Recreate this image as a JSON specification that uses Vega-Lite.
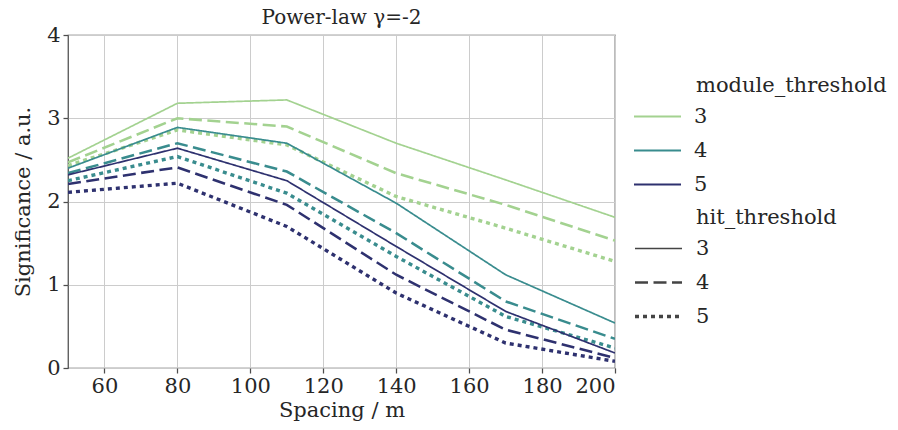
{
  "$schema": "https://vega.github.io/schema/vega-lite/v6.json",
  "width": 547,
  "height": 333,
  "autosize": "none",
  "padding": {"left": 68, "top": 35, "right": 283, "bottom": 62},
  "background": "white",
  "title": {"text": "Power-law γ=-2", "font": "DejaVu Serif", "fontSize": 20, "fontWeight": "normal", "color": "#262626", "frame": "group", "offset": -4},
  "config": {
    "view": {"stroke": "#4d4d4d", "strokeWidth": 1.25},
    "font": "DejaVu Serif",
    "axis": {
      "labelFont": "DejaVu Serif", "labelFontSize": 21, "labelColor": "#262626",
      "titleFont": "DejaVu Serif", "titleFontSize": 21, "titleFontWeight": "normal", "titleColor": "#262626",
      "gridColor": "#cccccc", "gridWidth": 1, "domain": false,
      "tickColor": "#4d4d4d", "tickSize": 5, "tickWidth": 1.25, "labelPadding": 3
    },
    "legend": {
      "titleFont": "DejaVu Serif", "titleFontSize": 21, "titleFontWeight": "normal", "titleColor": "#262626",
      "labelFont": "DejaVu Serif", "labelFontSize": 21, "labelColor": "#262626", "titleLimit": 400
    }
  },
  "data": {"values": [
    {"spacing": 50, "sig": 2.52, "module_threshold": "3", "hit_threshold": "3"},
    {"spacing": 80, "sig": 3.18, "module_threshold": "3", "hit_threshold": "3"},
    {"spacing": 110, "sig": 3.22, "module_threshold": "3", "hit_threshold": "3"},
    {"spacing": 140, "sig": 2.70, "module_threshold": "3", "hit_threshold": "3"},
    {"spacing": 170, "sig": 2.26, "module_threshold": "3", "hit_threshold": "3"},
    {"spacing": 200, "sig": 1.81, "module_threshold": "3", "hit_threshold": "3"},
    {"spacing": 50, "sig": 2.47, "module_threshold": "3", "hit_threshold": "4"},
    {"spacing": 80, "sig": 3.00, "module_threshold": "3", "hit_threshold": "4"},
    {"spacing": 110, "sig": 2.90, "module_threshold": "3", "hit_threshold": "4"},
    {"spacing": 140, "sig": 2.34, "module_threshold": "3", "hit_threshold": "4"},
    {"spacing": 170, "sig": 1.96, "module_threshold": "3", "hit_threshold": "4"},
    {"spacing": 200, "sig": 1.53, "module_threshold": "3", "hit_threshold": "4"},
    {"spacing": 50, "sig": 2.43, "module_threshold": "3", "hit_threshold": "5"},
    {"spacing": 80, "sig": 2.86, "module_threshold": "3", "hit_threshold": "5"},
    {"spacing": 110, "sig": 2.68, "module_threshold": "3", "hit_threshold": "5"},
    {"spacing": 140, "sig": 2.06, "module_threshold": "3", "hit_threshold": "5"},
    {"spacing": 170, "sig": 1.68, "module_threshold": "3", "hit_threshold": "5"},
    {"spacing": 200, "sig": 1.28, "module_threshold": "3", "hit_threshold": "5"},
    {"spacing": 50, "sig": 2.40, "module_threshold": "4", "hit_threshold": "3"},
    {"spacing": 80, "sig": 2.89, "module_threshold": "4", "hit_threshold": "3"},
    {"spacing": 110, "sig": 2.70, "module_threshold": "4", "hit_threshold": "3"},
    {"spacing": 140, "sig": 1.98, "module_threshold": "4", "hit_threshold": "3"},
    {"spacing": 170, "sig": 1.12, "module_threshold": "4", "hit_threshold": "3"},
    {"spacing": 200, "sig": 0.54, "module_threshold": "4", "hit_threshold": "3"},
    {"spacing": 50, "sig": 2.34, "module_threshold": "4", "hit_threshold": "4"},
    {"spacing": 80, "sig": 2.70, "module_threshold": "4", "hit_threshold": "4"},
    {"spacing": 110, "sig": 2.36, "module_threshold": "4", "hit_threshold": "4"},
    {"spacing": 140, "sig": 1.62, "module_threshold": "4", "hit_threshold": "4"},
    {"spacing": 170, "sig": 0.80, "module_threshold": "4", "hit_threshold": "4"},
    {"spacing": 200, "sig": 0.35, "module_threshold": "4", "hit_threshold": "4"},
    {"spacing": 50, "sig": 2.25, "module_threshold": "4", "hit_threshold": "5"},
    {"spacing": 80, "sig": 2.54, "module_threshold": "4", "hit_threshold": "5"},
    {"spacing": 110, "sig": 2.10, "module_threshold": "4", "hit_threshold": "5"},
    {"spacing": 140, "sig": 1.34, "module_threshold": "4", "hit_threshold": "5"},
    {"spacing": 170, "sig": 0.62, "module_threshold": "4", "hit_threshold": "5"},
    {"spacing": 200, "sig": 0.24, "module_threshold": "4", "hit_threshold": "5"},
    {"spacing": 50, "sig": 2.32, "module_threshold": "5", "hit_threshold": "3"},
    {"spacing": 80, "sig": 2.64, "module_threshold": "5", "hit_threshold": "3"},
    {"spacing": 110, "sig": 2.25, "module_threshold": "5", "hit_threshold": "3"},
    {"spacing": 140, "sig": 1.46, "module_threshold": "5", "hit_threshold": "3"},
    {"spacing": 170, "sig": 0.68, "module_threshold": "5", "hit_threshold": "3"},
    {"spacing": 200, "sig": 0.18, "module_threshold": "5", "hit_threshold": "3"},
    {"spacing": 50, "sig": 2.21, "module_threshold": "5", "hit_threshold": "4"},
    {"spacing": 80, "sig": 2.41, "module_threshold": "5", "hit_threshold": "4"},
    {"spacing": 110, "sig": 1.96, "module_threshold": "5", "hit_threshold": "4"},
    {"spacing": 140, "sig": 1.12, "module_threshold": "5", "hit_threshold": "4"},
    {"spacing": 170, "sig": 0.46, "module_threshold": "5", "hit_threshold": "4"},
    {"spacing": 200, "sig": 0.12, "module_threshold": "5", "hit_threshold": "4"},
    {"spacing": 50, "sig": 2.11, "module_threshold": "5", "hit_threshold": "5"},
    {"spacing": 80, "sig": 2.22, "module_threshold": "5", "hit_threshold": "5"},
    {"spacing": 110, "sig": 1.70, "module_threshold": "5", "hit_threshold": "5"},
    {"spacing": 140, "sig": 0.90, "module_threshold": "5", "hit_threshold": "5"},
    {"spacing": 170, "sig": 0.30, "module_threshold": "5", "hit_threshold": "5"},
    {"spacing": 200, "sig": 0.08, "module_threshold": "5", "hit_threshold": "5"}
  ]},
  "mark": {"type": "line", "clip": true, "strokeCap": "butt"},
  "encoding": {
    "x": {"field": "spacing", "type": "quantitative", "title": "Spacing / m",
      "scale": {"domain": [50, 200], "nice": false, "zero": false},
      "axis": {"values": [60, 80, 100, 120, 140, 160, 180, 200], "labelPadding": 2, "titlePadding": 3}},
    "y": {"field": "sig", "type": "quantitative", "title": "Significance / a.u.",
      "scale": {"domain": [0, 4], "nice": false},
      "axis": {"values": [0, 1, 2, 3, 4], "titlePadding": 13}},
    "color": {"field": "module_threshold", "type": "nominal",
      "scale": {"range": ["#a3d290", "#398c8e", "#2e316f"]},
      "legend": {"title": "module_threshold", "orient": "none", "legendX": 565, "legendY": 40, "padding": 0,
        "symbolType": "stroke", "symbolSize": 2209, "symbolStrokeWidth": 1.8, "clipHeight": 21,
        "rowPadding": 12, "titlePadding": 10, "labelOffset": 12,
        "encoding": {"title": {"dx": {"value": 63}}}}},
    "strokeDash": {"field": "hit_threshold", "type": "nominal",
      "scale": {"range": [[1, 0], [13, 5.5], [4, 4]]},
      "legend": {"title": "hit_threshold", "orient": "none", "legendX": 565, "legendY": 172, "padding": 0,
        "symbolType": "stroke", "symbolSize": 2209, "symbolStrokeWidth": 3, "symbolStrokeColor": "#444444", "clipHeight": 21,
        "rowPadding": 12, "titlePadding": 10, "labelOffset": 12,
        "encoding": {"title": {"dx": {"value": 63}}}}},
    "strokeWidth": {"field": "hit_threshold", "type": "nominal",
      "scale": {"range": [1.7, 3.4, 4]}, "legend": null}
  }
}
